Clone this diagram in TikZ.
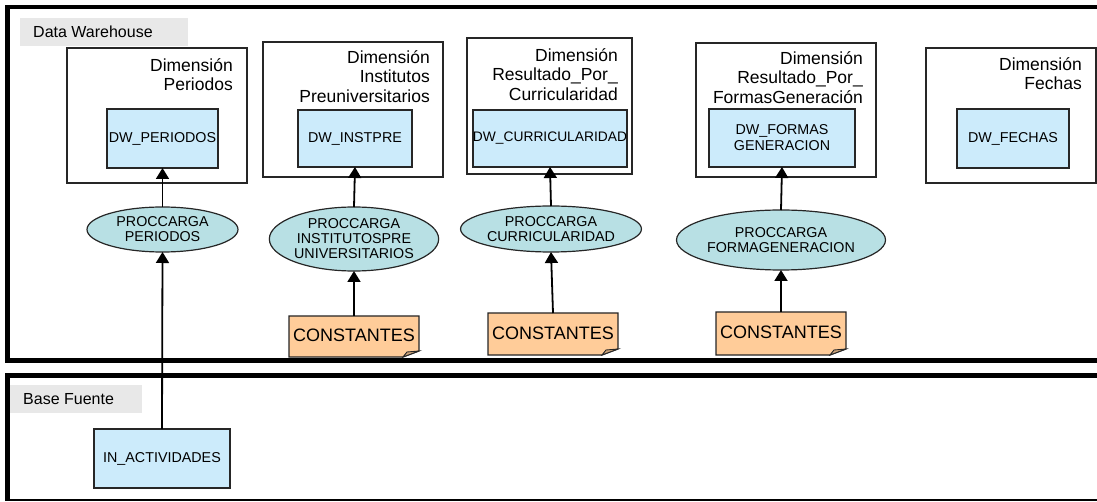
\documentclass[tikz,border=0pt]{standalone}
\usepackage{fontspec}
\setmainfont{Liberation Sans}
\usetikzlibrary{shapes.geometric,arrows.meta}
\definecolor{tblue}{HTML}{CCEBFB}
\definecolor{tellip}{HTML}{B8E0E4}
\definecolor{tconst}{HTML}{FFCC99}
\definecolor{tgray}{HTML}{E8E8E8}
\definecolor{tline}{HTML}{262626}
\tikzset{
  dimbox/.style={draw=tline, line width=1.3pt, fill=white, inner sep=0pt, outer sep=0pt},
  dimlabel/.style={anchor=north east, align=right, inner sep=0pt, font=\fontsize{17.5}{19.5}\selectfont},
  tablebox/.style={draw=tline, line width=1.3pt, fill=tblue, inner sep=0pt, outer sep=0pt, align=center, font=\fontsize{14.3}{16}\selectfont},
  procell/.style={ellipse, draw=tline, line width=1.2pt, fill=tellip, inner sep=0pt, outer sep=0pt, align=center, font=\fontsize{14.3}{15}\selectfont},
  constbox/.style={draw=none, inner sep=0pt, outer sep=0pt, minimum width=130pt},
  grouplabel/.style={fill=tgray, inner sep=0pt, outer sep=0pt},
  arr/.style={line width=1.8pt, draw=black, -{Triangle[width=13pt,length=11pt]}},
  frame/.style={line width=4.5pt, draw=black}
}
\begin{document}
\begin{tikzpicture}[x=1pt,y=-1pt]
\useasboundingbox (0,0) rectangle (1097,502);
% frames
\draw[frame] (1110,7) -- (7.5,7) -- (7.5,360.5) -- (1110,360.5);
\draw[frame] (1110,375.5) -- (7.5,375.5) -- (7.5,500.5);
\draw[line width=1.6pt] (5.25,500.2) -- (1110,500.2);
% group labels
\node[grouplabel, minimum width=168pt, minimum height=28pt] (dwlab) at (104,32) {};
\node[anchor=west, inner sep=0pt, font=\fontsize{16}{18}\selectfont] (dwtxt) at (33,32) {Data Warehouse};
\node[grouplabel, minimum width=132pt, minimum height=28pt] (bflab) at (76,399) {};
\node[anchor=west, inner sep=0pt, font=\fontsize{16}{18}\selectfont] (bftxt) at (23,399) {Base Fuente};
% dimension boxes
\node[dimbox, minimum width=180pt, minimum height=135pt] (d1) at (157,115.5) {};
\node[dimbox, minimum width=180pt, minimum height=135pt] (d2) at (353,109.5) {};
\node[dimbox, minimum width=165pt, minimum height=136pt] (d3) at (549.5,106) {};
\node[dimbox, minimum width=180pt, minimum height=134pt] (d4) at (786,110) {};
\node[dimbox, minimum width=170pt, minimum height=135pt] (d5) at (1011,115.5) {};
\node[dimlabel] (d1t) at ([xshift=-14pt,yshift=-10pt]d1.north east) {Dimensión\\Periodos};
\node[dimlabel] (d2t) at ([xshift=-13pt,yshift=-8pt]d2.north east) {Dimensión\\Institutos\\Preuniversitarios};
\node[dimlabel] (d3t) at ([xshift=-14pt,yshift=-10pt]d3.north east) {Dimensión\\Resultado\_Por\_\\Curricularidad};
\node[dimlabel] (d4t) at ([xshift=-13pt,yshift=-8pt]d4.north east) {Dimensión\\Resultado\_Por\_\\FormasGeneración};
\node[dimlabel] (d5t) at ([xshift=-14pt,yshift=-9pt]d5.north east) {Dimensión\\Fechas};
% tables
\node[tablebox, minimum width=111pt, minimum height=59pt] (t1) at (162.5,138.5) {DW\_PERIODOS};
\node[tablebox, minimum width=114pt, minimum height=57pt] (t2) at (355,138.5) {DW\_INSTPRE};
\node[tablebox, minimum width=144pt, minimum height=57pt, font=\fontsize{13.8}{16}\selectfont] (t3) at (550,138.5) {DW\_CURRICULARIDAD};
\node[tablebox, minimum width=146pt, minimum height=58pt] (t4) at (782,138) {DW\_FORMAS\\GENERACION};
\node[tablebox, minimum width=112pt, minimum height=59pt] (t5) at (1013,138.5) {DW\_FECHAS};
\node[tablebox, minimum width=136pt, minimum height=59pt] (src) at (162,458.5) {IN\_ACTIVIDADES};
% processes
\node[procell, minimum width=151pt, minimum height=45pt] (p1) at (162.5,229.5) {PROCCARGA\\PERIODOS};
\node[procell, minimum width=151pt, minimum height=64pt] (p2) at (354,239) {PROCCARGA\\INSTITUTOSPRE\\UNIVERSITARIOS};
\node[procell, minimum width=150pt, minimum height=46pt] (p3) at (551,229) {PROCCARGA\\CURRICULARIDAD};
\node[procell, minimum width=152pt, minimum height=60pt] (p4) at (781,240) {PROCCARGA\\FORMAGENERACION};
% constants
\node[constbox, minimum height=41pt] (c1) at (354,336.5) {};
\node[constbox, minimum height=42pt] (c2) at (553,334) {};
\node[constbox, minimum height=43pt] (c3) at (781,333.5) {};
\foreach \c in {c1,c2,c3}{
  \draw[draw=tline, line width=1.2pt, fill=tconst]
    (\c.north west) -- (\c.north east) -- ([yshift=6pt]\c.south east)
    -- ([xshift=-16pt]\c.south east) -- (\c.south west) -- cycle;
  \draw[draw=tline, line width=0.9pt, fill=tconst!80!black]
    ([xshift=-16pt]\c.south east) -- ([xshift=-12pt,yshift=5pt]\c.south east)
    -- ([yshift=6pt]\c.south east) -- cycle;
}
\node[inner sep=0pt, font=\fontsize{18}{20}\selectfont] (c1t) at ([yshift=1pt]c1.center) {CONSTANTES};
\node[inner sep=0pt, font=\fontsize{18}{20}\selectfont] (c2t) at ([yshift=1pt]c2.center) {CONSTANTES};
\node[inner sep=0pt, font=\fontsize{18}{20}\selectfont] (c3t) at ([yshift=1pt]c3.center) {CONSTANTES};
% connectors
\draw[arr] (src.north) -- (p1.south);
\draw[arr] (p1.north) -- (t1.south);
\draw[arr] (c1.north) -- (p2.south);
\draw[arr] (p2.north) -- (t2.south);
\draw[arr] (c2.north) -- (p3.south);
\draw[arr] (p3.north) -- (t3.south);
\draw[arr] (c3.north) -- (p4.south);
\draw[arr] (p4.north) -- (t4.south);
\end{tikzpicture}
\end{document}
